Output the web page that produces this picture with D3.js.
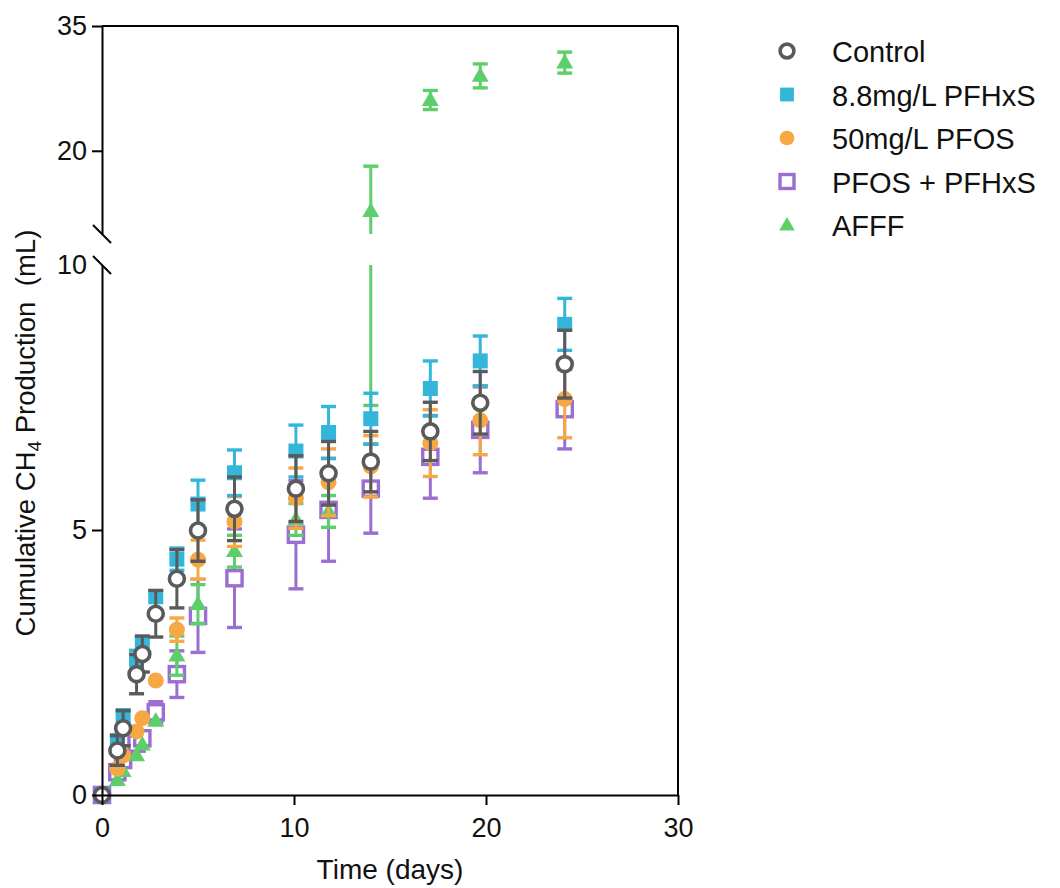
<!DOCTYPE html>
<html><head><meta charset="utf-8">
<script src="https://cdn.jsdelivr.net/npm/d3@7"></script>
<style>body{margin:0;background:#fff}svg{display:block}text{font-family:"Liberation Sans",Arial,sans-serif;fill:#111}</style>
</head><body>
<svg id="c" width="1060" height="888"></svg>
<script>
const days = [0, 0.8, 1.1, 1.8, 2.1, 2.8, 3.9, 5.0, 6.9, 10.1, 11.8, 14.0, 17.1, 19.7, 24.1];
const seriesNames = ["Control", "8.8mg/L PFHxS", "50mg/L PFOS", "PFOS + PFHxS", "AFFF"];
const controlMean = [0, 0.84, 1.26, 2.28, 2.66, 3.42, 4.08, 4.99, 5.40, 5.78, 6.07, 6.29, 6.86, 7.40, 8.13];
const controlSD   = [0, 0.28, 0.33, 0.37, 0.34, 0.44, 0.55, 0.58, 0.60, 0.62, 0.60, 0.57, 0.55, 0.59, 0.64];
const pfhxsMean = [0, 1.03, 1.50, 2.55, 2.85, 3.74, 4.45, 5.49, 6.08, 6.49, 6.84, 7.10, 7.67, 8.19, 8.88];
const pfhxsSD   = [0, 0.10, 0.13, 0.18, 0.15, 0.14, 0.21, 0.45, 0.43, 0.49, 0.49, 0.48, 0.52, 0.47, 0.49];
const pfosMean = [0, 0.50, 0.75, 1.20, 1.45, 2.16, 3.12, 4.44, 5.16, 5.60, 5.90, 6.20, 6.64, 7.07, 7.47];
const pfosSD   = [0, 0.05, 0.08, 0.10, 0.10, 0.10, 0.22, 0.37, 0.47, 0.57, 0.63, 0.58, 0.63, 0.65, 0.73];
const mixMean = [0, 0.43, 0.66, 0.97, 1.07, 1.56, 2.28, 3.38, 4.09, 4.91, 5.38, 5.78, 6.38, 6.89, 7.28];
const mixSD   = [0, 0.10, 0.12, 0.12, 0.15, 0.20, 0.44, 0.69, 0.93, 1.02, 0.97, 0.84, 0.78, 0.81, 0.75];
const afffMean = [0, 0.28, 0.45, 0.75, 0.95, 1.40, 2.63, 3.60, 4.60, 5.20, 5.35, 12.75, 26.1, 29.0, 30.6];
const afffSD   = [0, 0.05, 0.05, 0.05, 0.08, 0.10, 0.37, 0.37, 0.30, 0.30, 0.30, 5.40, 1.15, 1.44, 1.26];
const xTicks = [0, 10, 20, 30];
const yLowTicks = [0, 5, 10];
const yHighTicks = [20, 35];

const svg = d3.select("#c");
const x = d3.scaleLinear().domain([0, 30]).range([102, 678]);
const yLow = d3.scaleLinear().domain([0, 10]).range([795, 265]);
const yHigh = d3.scaleLinear().domain([10, 35]).range([234, 26]);

const series = [
  {name: seriesNames[3], mean: mixMean, sd: mixSD, color: "#9b6fd1", shape: "square", filled: false},
  {name: seriesNames[4], mean: afffMean, sd: afffSD, color: "#5ccf6a", shape: "triangle", filled: true},
  {name: seriesNames[2], mean: pfosMean, sd: pfosSD, color: "#f6a845", shape: "circle", filled: true},
  {name: seriesNames[1], mean: pfhxsMean, sd: pfhxsSD, color: "#33b6d9", shape: "square", filled: true},
  {name: seriesNames[0], mean: controlMean, sd: controlSD, color: "#5a5a5a", shape: "circle", filled: false}
];
const legendOrder = [4, 3, 2, 0, 1];

function marker(g, s, cx, cy, scale) {
  scale = scale || 1;
  if (s.shape === "circle") {
    if (s.filled) g.append("circle").attr("cx", cx).attr("cy", cy).attr("r", 8 * scale).attr("fill", s.color);
    else g.append("circle").attr("cx", cx).attr("cy", cy).attr("r", 7.5 * scale).attr("fill", "#fff").attr("stroke", s.color).attr("stroke-width", 3.6);
  } else if (s.shape === "square") {
    if (s.filled) { const h = 7.5 * scale; g.append("rect").attr("x", cx - h).attr("y", cy - h).attr("width", 2 * h).attr("height", 2 * h).attr("fill", s.color); }
    else { const h = 7.6 * scale; g.append("rect").attr("x", cx - h).attr("y", cy - h).attr("width", 2 * h).attr("height", 2 * h).attr("fill", "#fff").attr("stroke", s.color).attr("stroke-width", 3.4); }
  } else {
    g.append("path").attr("transform", `translate(${cx},${cy + 1})`).attr("d", d3.symbol().type(d3.symbolTriangle).size(125 * scale * scale)()).attr("fill", s.color);
  }
}

function errBar(g, s, cx, v, sd) {
  const lo = v - sd, hi = v + sd;
  const pix = (v < 10 ? (yLow(lo) - yLow(hi)) : (yHigh(Math.max(lo,10)) - yHigh(hi))) / 2;
  if (sd <= 0 || pix < 8) return;
  const cap = 7.5;
  const line = (y1, y2) => g.append("line").attr("x1", cx).attr("x2", cx).attr("y1", y1).attr("y2", y2).attr("stroke", s.color).attr("stroke-width", 3);
  const capL = (y) => g.append("line").attr("x1", cx - cap).attr("x2", cx + cap).attr("y1", y).attr("y2", y).attr("stroke", s.color).attr("stroke-width", 3.4);
  if (lo < 10) {
    line(yLow(Math.max(lo, 0)), yLow(Math.min(hi, 10)));
    capL(yLow(lo));
    if (hi <= 10) capL(yLow(hi));
  }
  if (hi > 10) {
    line(yHigh(Math.max(lo, 10)), yHigh(Math.min(hi, 35)));
    if (lo >= 10) capL(yHigh(lo));
    capL(yHigh(hi));
  }
}

// frame
const ax = svg.append("g");
ax.append("line").attr("x1", x(0)).attr("x2", x(30)).attr("y1", yHigh(35)).attr("y2", yHigh(35)).attr("stroke", "#000").attr("stroke-width", 2);
ax.append("line").attr("x1", x(30)).attr("x2", x(30)).attr("y1", yHigh(35)).attr("y2", yLow(0)).attr("stroke", "#000").attr("stroke-width", 2);

// data
series.forEach(s => {
  const g = svg.append("g");
  days.forEach((d, i) => errBar(g, s, x(d), s.mean[i], s.sd[i]));
  days.forEach((d, i) => {
    const v = s.mean[i];
    marker(g, s, x(d), v < 10 ? yLow(v) : yHigh(v));
  });
});

// axes
const fs = 27;
const xAxis = svg.append("g").attr("transform", `translate(0,${yLow(0)})`)
  .call(d3.axisBottom(x).tickValues(xTicks).tickSize(10).tickSizeOuter(0).tickPadding(13));
const yAxL = svg.append("g").attr("transform", `translate(${x(0)},0)`)
  .call(d3.axisLeft(yLow).tickValues(yLowTicks).tickSize(10).tickSizeOuter(0).tickPadding(5));
const yAxH = svg.append("g").attr("transform", `translate(${x(0)},0)`)
  .call(d3.axisLeft(yHigh).tickValues(yHighTicks).tickSize(10).tickSizeOuter(0).tickPadding(5));
[xAxis, yAxL, yAxH].forEach(a => {
  a.selectAll("path.domain").attr("stroke", "#000").attr("stroke-width", 2);
  a.selectAll(".tick line").attr("stroke", "#000").attr("stroke-width", 2);
  a.selectAll(".tick text").attr("font-size", fs).attr("font-family", "Liberation Sans, Arial, sans-serif").attr("fill", "#111");
});
xAxis.selectAll(".tick text").attr("dy", "0.72em");
yAxL.selectAll(".tick").filter(d => d === 10).select("line").remove();
yAxL.selectAll(".tick").filter(d => d === 10).select("text").attr("dy", "0.3em");
// break slashes
[yHigh(10), yLow(10)].forEach(yy => {
  svg.append("line").attr("x1", x(0) - 9).attr("x2", x(0) + 9).attr("y1", yy - 9).attr("y2", yy + 9).attr("stroke", "#000").attr("stroke-width", 2);
});
// titles
svg.append("text").attr("x", (x(0) + x(30)) / 2).attr("y", 879).attr("text-anchor", "middle").attr("font-size", 28).text("Time (days)");
const yt = svg.append("text").attr("transform", `translate(35,433) rotate(-90)`).attr("text-anchor", "middle").attr("font-size", 27.5);
yt.append("tspan").text("Cumulative CH");
yt.append("tspan").attr("font-size", 19).attr("dy", 6).text("4");
yt.append("tspan").attr("dy", -6).text(" Production");
yt.append("tspan").attr("dx", 8).text(" (mL)");

// legend
legendOrder.forEach((si, k) => {
  const s = series[si];
  const cy = 51 + k * 43.5;
  const g = svg.append("g");
  marker(g, s, 787, cy, 0.92);
  g.append("text").attr("x", 832).attr("y", cy + 11).attr("font-size", 29).text(s.name);
});
</script>
</body></html>
